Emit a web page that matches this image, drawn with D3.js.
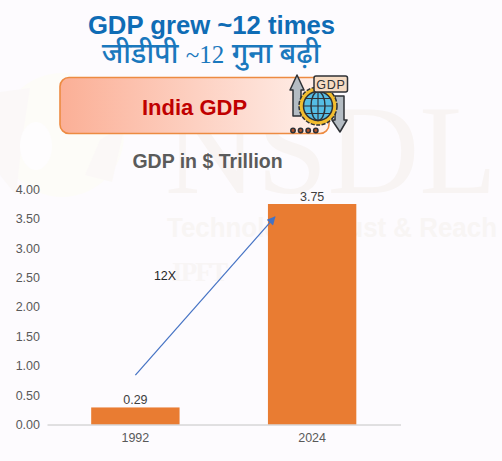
<!DOCTYPE html>
<html>
<head>
<meta charset="utf-8">
<script src="https://cdn.jsdelivr.net/npm/d3@7"></script>
<style>
html,body{margin:0;padding:0;background:#fdfbfe;}
svg{display:block;}
text{font-family:"Liberation Sans",Arial,sans-serif;}
</style>
</head>
<body>
<svg id="chart" width="502" height="461"></svg>
<script>
const years = ["1992", "2024"];
const gdpTrillion = [0.29, 3.75];
const yTicks = [0, 0.5, 1, 1.5, 2, 2.5, 3, 3.5, 4];
const growthLabel = "12X";
const growthFrom = 0.84;
const growthTo = 3.53;
const titleEn = "GDP grew ~12 times";
const titleHiParts = ["जीडीपी ", "~12", " गुना बढ़ी"];
const bannerLabel = "India GDP";
const chartTitle = "GDP in $ Trillion";

const svg = d3.select("#chart");
const defs = svg.append("defs");

const bannerFill = defs.append("linearGradient").attr("id", "bannerFill")
  .attr("x1", 0).attr("x2", 1).attr("y1", 0).attr("y2", 0);
bannerFill.append("stop").attr("offset", "0%").attr("stop-color", "#fbaf96");
bannerFill.append("stop").attr("offset", "100%").attr("stop-color", "#fff1ec");

defs.append("marker").attr("id", "arrowHead")
  .attr("viewBox", "0 0 10 10").attr("refX", 9).attr("refY", 5)
  .attr("markerWidth", 10).attr("markerHeight", 8.5).attr("markerUnits", "userSpaceOnUse")
  .attr("orient", "auto")
  .append("path").attr("d", "M0,0L10,5L0,10Z").attr("fill", "#4472c4");

// Faint watermark behind everything
const mark = svg.append("g").attr("class", "watermark");
mark.append("circle").attr("cx", 62).attr("cy", 135).attr("r", 62).attr("fill", "#fdfcf8");
mark.append("path").attr("d", "M0,92L30,88L22,140L16,195L0,175Z").attr("fill", "#fbf8f8");
mark.append("path").attr("d", "M125,125L112,182L85,175L100,140Z").attr("fill", "#fbf8f7");
mark.append("ellipse").attr("cx", 36).attr("cy", 146).attr("rx", 16).attr("ry", 24).attr("fill", "#fefdfe");
mark.append("text").attr("x", 165).attr("y", 193)
  .attr("font-size", 126).attr("textLength", 332).attr("lengthAdjust", "spacingAndGlyphs")
  .style("font-family", "'Liberation Serif',serif")
  .attr("fill", "#f8f4f3").text("NSDL");
mark.append("text").attr("x", 167).attr("y", 237)
  .attr("font-size", 28).attr("font-weight", 700).attr("textLength", 330)
  .attr("lengthAdjust", "spacingAndGlyphs")
  .attr("fill", "#f8f5f4").text("Technology, Trust & Reach");
mark.append("text").attr("x", 172).attr("y", 281)
  .attr("font-size", 27).attr("font-weight", 700).attr("textLength", 56)
  .style("font-family", "'Liberation Serif',serif")
  .attr("fill", "#f8f5f5").text("IPFT");

// Headline pair
svg.append("text").attr("x", 211.5).attr("y", 34).attr("text-anchor", "middle")
  .attr("font-size", 25.7).attr("font-weight", 700).attr("fill", "#0f6cb5").text(titleEn);
const hi = svg.append("text").attr("x", 211).attr("y", 63).attr("text-anchor", "middle")
  .attr("font-size", 28.5).attr("font-weight", 500).attr("fill", "#1a78bd")
  .style("font-family", "'Noto Sans','Noto Sans Devanagari',sans-serif");
hi.selectAll("tspan").data(titleHiParts).join("tspan")
  .style("font-family", d => d === "~12" ? "'Liberation Serif',serif" : null)
  .attr("font-size", d => d === "~12" ? 25 : null)
  .text(d => d);

// Banner
svg.append("rect").attr("x", 60).attr("y", 77.5).attr("width", 269).attr("height", 56).attr("rx", 9)
  .attr("fill", "url(#bannerFill)").attr("stroke", "#ed8b42").attr("stroke-width", 1.6);
svg.append("text").attr("x", 194.5).attr("y", 114.5).attr("text-anchor", "middle")
  .attr("font-size", 22).attr("font-weight", 700).attr("fill", "#c00000").text(bannerLabel);

// GDP emblem: arrows, cog and globe
const icon = svg.append("g").attr("stroke", "#2e3136").attr("stroke-width", 1.5).attr("stroke-linejoin", "round");
icon.append("path").attr("d", "M293,116V90H290L297,75L304,90H301V116Z").attr("fill", "#b4bcc3");
icon.append("path").attr("d", "M335,96V120H332L340,132L347,120H344V96Z").attr("fill", "#b4bcc3");
icon.append("circle").attr("cx", 318).attr("cy", 106).attr("r", 19)
  .attr("fill", "#f2bd2f").attr("stroke-dasharray", "4 1.5");
icon.append("circle").attr("cx", 318).attr("cy", 106).attr("r", 14.5).attr("fill", "#55bde4");
icon.append("ellipse").attr("cx", 318).attr("cy", 106).attr("rx", 7).attr("ry", 14.5).attr("fill", "none");
icon.append("path").attr("d", "M303.5,106H332.5M305.5,98.5H330.5M305.5,113.5H330.5M318,91.5V120.5").attr("fill", "none").attr("stroke-width", 1.1);
icon.append("rect").attr("x", 314).attr("y", 76).attr("width", 33.5).attr("height", 16).attr("rx", 2).attr("fill", "#f6dcc4");
svg.append("text").attr("x", 331).attr("y", 89).attr("text-anchor", "middle")
  .attr("font-size", 12.5).attr("fill", "#2f3235").attr("letter-spacing", 0.8).text("GDP");
icon.selectAll(".dot").data([0, 1, 2, 3]).join("circle").attr("class", "dot")
  .attr("cx", d => 293 + d * 7.6).attr("cy", 130.5).attr("r", 2.2).attr("fill", "#b5532c");

// Chart title
svg.append("text").attr("x", 207.5).attr("y", 168).attr("text-anchor", "middle")
  .attr("font-size", 19.5).attr("font-weight", 700).attr("fill", "#5b5b5b").text(chartTitle);

// Column chart
const x = d3.scaleBand().domain(years).range([47, 400.5]).paddingInner(0.5).paddingOuter(0.25);
const y = d3.scaleLinear().domain([0, 4]).range([424.5, 189.3]);

const yAxis = d3.axisLeft(y).tickValues(yTicks).tickFormat(d3.format(".2f")).tickSize(0).tickPadding(7);
const gy = svg.append("g").attr("transform", "translate(47,0)").call(yAxis);
gy.select(".domain").remove();
gy.selectAll("text").attr("font-size", 12.5).attr("fill", "#595959");

svg.selectAll(".bar").data(gdpTrillion).join("rect").attr("class", "bar")
  .attr("x", (d, i) => x(years[i])).attr("width", x.bandwidth())
  .attr("y", d => y(d)).attr("height", d => y(0) - y(d)).attr("fill", "#e97c32");

const xAxis = d3.axisBottom(x).tickSize(0).tickPadding(9);
const gx = svg.append("g").attr("transform", "translate(0,424.5)").call(xAxis);
gx.select(".domain").attr("stroke", "#c4c4c4").attr("stroke-width", 1);
gx.selectAll("text").attr("font-size", 12.5).attr("fill", "#595959");

svg.selectAll(".value").data(gdpTrillion).join("text").attr("class", "value")
  .attr("x", (d, i) => x(years[i]) + x.bandwidth() / 2).attr("y", d => y(d) - 3)
  .attr("text-anchor", "middle").attr("font-size", 12.5).attr("fill", "#404040")
  .text(d => d.toFixed(2));

// Growth arrow rising from the first column towards the second
svg.append("line")
  .attr("x1", x(years[0]) + x.bandwidth() / 2).attr("y1", y(growthFrom))
  .attr("x2", x(years[1]) + 7).attr("y2", y(growthTo))
  .attr("stroke", "#4472c4").attr("stroke-width", 1.2).attr("marker-end", "url(#arrowHead)");
svg.append("text").attr("x", 165).attr("y", 280).attr("text-anchor", "middle")
  .attr("font-size", 12.5).attr("fill", "#262626").text(growthLabel);
</script>
</body>
</html>
